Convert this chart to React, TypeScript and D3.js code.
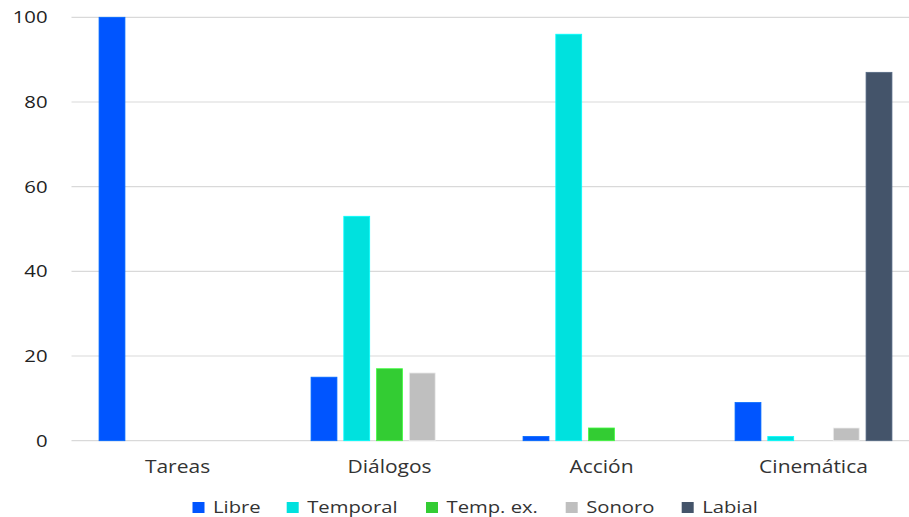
import React from "react";
import * as d3 from "d3";

const categories = ["Tareas", "Diálogos", "Acción", "Cinemática"];
const seriesNames = ["Libre", "Temporal", "Temp. ex.", "Sonoro", "Labial"];
const libre = [100, 15, 1, 9];
const temporal = [0, 53, 96, 1];
const tempEx = [0, 17, 3, 0];
const sonoro = [0, 16, 0, 3];
const labial = [0, 0, 0, 87];
const yTicks = [0, 20, 40, 60, 80, 100];
const colors = ["#0055FF", "#00E1DE", "#33CC33", "#BFBFBF", "#44546A"];

const seriesValues = [libre, temporal, tempEx, sonoro, labial];

function SText(props: {
  x: number;
  y: number;
  sx: number;
  size: number;
  anchor?: string;
  fill?: string;
  children: React.ReactNode;
}) {
  return (
    <text
      transform={`translate(${props.x},${props.y}) scale(${props.sx},1)`}
      textAnchor={props.anchor || "start"}
      fontSize={props.size}
      fill={props.fill || "#333"}
    >
      {props.children}
    </text>
  );
}

export default function App() {
  const W = 909;
  const H = 517;
  const plotLeft = 71.5;
  const plotRight = 919.5;
  const y = d3.scaleLinear().domain([0, 100]).range([440.7, 17.3]);
  const x0 = d3.scaleBand<string>().domain(categories).range([plotLeft, plotRight]).paddingInner(0).paddingOuter(0);
  const bw = x0.bandwidth();
  const x1 = d3
    .scaleBand<string>()
    .domain(seriesNames)
    .range([bw * 0.13, bw * 0.87])
    .paddingInner(0.21)
    .paddingOuter(0);

  const font = "'Open Sans', 'DejaVu Sans', sans-serif";
  const legendX = [192.5, 286.7, 426, 565.7, 681.7];

  return (
    <svg
      width={W}
      height={H}
      style={{ position: "absolute", left: 0, top: 0, background: "#fff" }}
      fontFamily={font}
    >
      {yTicks.map((t) => (
        <g key={t}>
          <line x1={plotLeft} x2={W} y1={y(t)} y2={y(t)} stroke="#D9D9D9" strokeWidth={1.2} />
          <SText x={47.5} y={y(t) + 6} sx={1.32} size={15.4} anchor="end" fill="#222">
            {t}
          </SText>
        </g>
      ))}
      {categories.map((c, ci) => (
        <g key={c} transform={`translate(${x0(c)},0)`}>
          {seriesNames.map((s, si) => {
            const v = seriesValues[si][ci];
            if (!v) return null;
            return (
              <rect
                key={s}
                x={x1(s)}
                y={y(v)}
                width={x1.bandwidth()}
                height={y(0) - y(v)}
                fill={colors[si]}
                stroke={d3.color(colors[si])!.brighter(0.6).toString()}
                strokeWidth={0.8}
              />
            );
          })}
          <SText x={bw / 2} y={472.5} sx={1.18} size={17.8} anchor="middle">
            {c}
          </SText>
        </g>
      ))}
      {seriesNames.map((s, i) => (
        <g key={s}>
          <rect x={legendX[i]} y={502} width={12} height={11} fill={colors[i]} />
          <SText x={legendX[i] + 20.5} y={513} sx={1.19} size={17} >
            {s}
          </SText>
        </g>
      ))}
    </svg>
  );
}
